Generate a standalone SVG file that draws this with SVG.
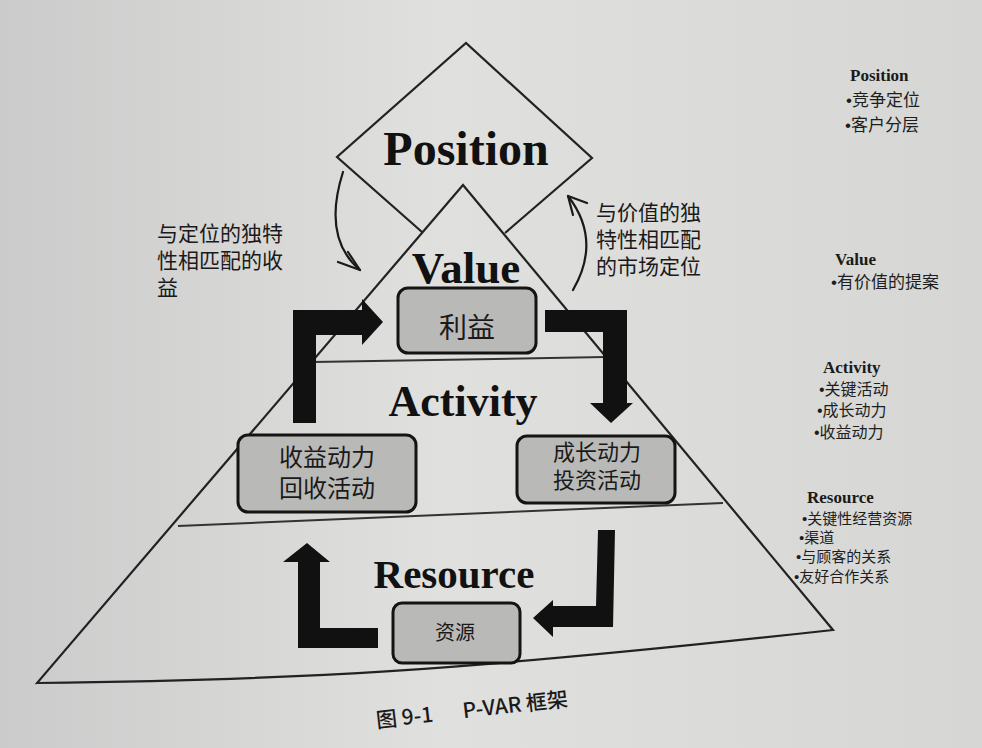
<svg xmlns="http://www.w3.org/2000/svg" width="982" height="748" viewBox="0 0 982 748">
<defs>
<linearGradient id="bg" x1="0" y1="0" x2="1" y2="0">
<stop offset="0" stop-color="#cbcbcb"/>
<stop offset="0.45" stop-color="#e0e0de"/>
<stop offset="1" stop-color="#d6d6d4"/>
</linearGradient>
<style>
.edge{fill:none;stroke:#222;stroke-width:2.2;stroke-linejoin:miter}
.div{fill:none;stroke:#333;stroke-width:2}
.box{fill:#b9b9b7;stroke:#141414;stroke-width:3}
.big{font-family:"Liberation Serif","Times New Roman",serif;font-weight:bold;fill:#111;text-anchor:middle}
.cjk{font-family:"Noto Sans CJK SC",sans-serif;fill:#1a1a1a}
.mid{text-anchor:middle}
.leg{font-family:"Liberation Serif",serif;font-weight:bold;fill:#1a1a1a;font-size:17px}
.legc{font-family:"Noto Sans CJK SC",sans-serif;fill:#1e1e1e}
.dot{font-family:"Liberation Sans",sans-serif}
.bar{fill:#111}
.thin{fill:none;stroke:#1a1a1a;stroke-width:2.2;stroke-linecap:round;stroke-linejoin:round}
</style>
</defs>
<rect x="0" y="0" width="982" height="748" fill="url(#bg)"/>

<g id="position">
<path class="edge" d="M422,232 L337,157 L466,43 L592,158 L505,233"/>
<text class="big" x="466" y="165" font-size="48">Position</text>
</g>

<g id="pyramid">
<path class="edge" d="M463,185 L37,683 C300,680 450,672 833,630 Z"/>
<path class="div" d="M313,362 L605,357"/>
<path class="div" d="M178,526 L723,503"/>
</g>

<g id="value">
<text class="big" x="466" y="283" font-size="45">Value</text>
</g>
<g id="activity">
<text class="big" x="463" y="416" font-size="44">Activity</text>
</g>
<g id="resource">
<text class="big" x="454" y="588" font-size="41">Resource</text>
</g>

<g id="node-liyi">
<rect class="box" x="398" y="288" width="138" height="65" rx="10"/>
<text class="cjk mid" x="467" y="338" font-size="28">利益</text>
</g>
<g id="node-shouyi">
<rect class="box" x="238" y="435" width="178" height="77" rx="10"/>
<text class="cjk mid" x="327" y="466" font-size="24">收益动力</text>
<text class="cjk mid" x="327" y="497" font-size="24">回收活动</text>
</g>
<g id="node-chengzhang">
<rect class="box" x="517" y="436" width="158" height="67" rx="10"/>
<text class="cjk mid" x="597" y="460" font-size="22">成长动力</text>
<text class="cjk mid" x="597" y="488" font-size="22">投资活动</text>
</g>
<g id="node-ziyuan">
<rect class="box" x="393" y="603" width="127" height="60" rx="9"/>
<text class="cjk mid" x="455" y="640" font-size="20">资源</text>
</g>

<g id="connectors">
<polygon class="bar" points="293,423 293,310 362,310 362,299 383,322 362,345 362,335 316,335 316,423"/>
<polygon class="bar" points="545,310 627,310 627,403 633,403 611,423 590,403 603,403 603,332 545,332"/>
<polygon class="bar" points="378,628 378,648 298,648 298,562 283,562 307,543 330,562 320,562 320,628"/>
<polygon class="bar" points="598,530 615,530 613,627 553,627 553,637 533,618 553,600 553,606 596,606"/>
<path class="thin" d="M343,172 Q322,238 360,270"/>
<path class="thin" d="M338,262 L360,270 L348,252"/>
<path class="thin" d="M573,290 Q602,240 568,196"/>
<path class="thin" d="M587,203 L568,196 L573,215"/>
</g>

<g id="note-left">
<text class="cjk" x="157" y="241" font-size="21">与定位的独特</text>
<text class="cjk" x="157" y="268" font-size="21">性相匹配的收</text>
<text class="cjk" x="157" y="295" font-size="21">益</text>
</g>
<g id="note-right">
<text class="cjk" x="596" y="220" font-size="21">与价值的独</text>
<text class="cjk" x="596" y="247" font-size="21">特性相匹配</text>
<text class="cjk" x="596" y="274" font-size="21">的市场定位</text>
</g>

<g id="legend">
<text class="leg" x="850" y="81">Position</text>
<text class="legc" x="846" y="106" font-size="17"><tspan class="dot">•</tspan>竞争定位</text>
<text class="legc" x="845" y="131" font-size="17"><tspan class="dot">•</tspan>客户分层</text>
<text class="leg" x="835" y="265">Value</text>
<text class="legc" x="831" y="288" font-size="17"><tspan class="dot">•</tspan>有价值的提案</text>
<text class="leg" x="823" y="373">Activity</text>
<text class="legc" x="819" y="395" font-size="16"><tspan class="dot">•</tspan>关键活动</text>
<text class="legc" x="817" y="416" font-size="16"><tspan class="dot">•</tspan>成长动力</text>
<text class="legc" x="814" y="438" font-size="16"><tspan class="dot">•</tspan>收益动力</text>
<text class="leg" x="807" y="503" font-size="16">Resource</text>
<text class="legc" x="802" y="524" font-size="15"><tspan class="dot">•</tspan>关键性经营资源</text>
<text class="legc" x="799" y="543" font-size="15"><tspan class="dot">•</tspan>渠道</text>
<text class="legc" x="796" y="562" font-size="15"><tspan class="dot">•</tspan>与顾客的关系</text>
<text class="legc" x="794" y="582" font-size="15"><tspan class="dot">•</tspan>友好合作关系</text>
</g>

<g id="caption" transform="rotate(-6.5 377 728)">
<text class="cjk" x="377" y="728" font-size="21" font-weight="500">图 9-1<tspan dx="30">P-VAR 框架</tspan></text>
</g>
</svg>
